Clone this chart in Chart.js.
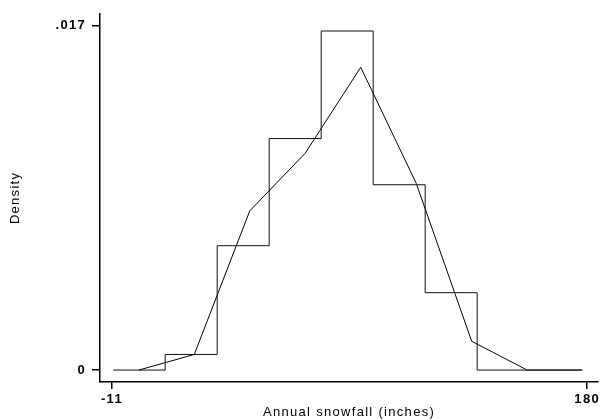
<!DOCTYPE html>
<html>
<head>
<meta charset="utf-8">
<title>Annual snowfall</title>
<script src="https://cdn.jsdelivr.net/npm/chart.js@4/dist/chart.umd.min.js"></script>
<style>
  html, body { margin: 0; padding: 0; background: #fff; }
  canvas { display: block; }
</style>
</head>
<body>
<canvas id="snow" width="601" height="420"></canvas>
<script>
// histogram bins (inches) and their densities
const binEdges = [-10.5, 10.4, 31.3, 52.2, 73.1, 94.0, 114.9, 135.8, 156.7, 177.6];
const binDensity = [0, 0.00077, 0.00614, 0.01143, 0.01674, 0.00915, 0.00382, 0, 0];

// frequency polygon over the same data
const polyX = [-0.2, 22.1, 44.4, 66.7, 89.0, 111.3, 133.6, 155.9, 178.2];
const polyY = [0, 0.00077, 0.00786, 0.01071, 0.01495, 0.00922, 0.00142, 0, 0];

const xTicks = [-11, 180];
const xTickLabels = ['-11', '180'];
const yTicks = [0, 0.017];
const yTickLabels = ['0', '.017'];

// step outline: each bin's top ends at its right edge (stepped 'after' rises first)
const histPoints = [{ x: binEdges[0], y: binDensity[0] }];
binDensity.forEach((d, i) => histPoints.push({ x: binEdges[i + 1], y: d }));
const polyPoints = polyX.map((x, i) => ({ x: x, y: polyY[i] }));

const FAMILY = '"Liberation Sans", Arial, Helvetica, sans-serif';
const TICK_FONT = { family: FAMILY, size: 13, weight: 'bold' };
const TITLE_FONT = { family: FAMILY, size: 13 };

const spacing = {
  id: 'spacing',
  beforeDraw(chart) { chart.ctx.letterSpacing = '1.3px'; }
};

new Chart(document.getElementById('snow').getContext('2d'), {
  type: 'line',
  data: {
    datasets: [
      {
        label: 'hist',
        data: histPoints,
        stepped: 'after',
        borderColor: '#111',
        borderWidth: 1,
        pointRadius: 0,
        fill: false
      },
      {
        label: 'poly',
        data: polyPoints,
        borderColor: '#000',
        borderWidth: 1,
        pointRadius: 0,
        tension: 0,
        fill: false
      }
    ]
  },
  options: {
    responsive: false,
    animation: false,
    events: [],
    layout: { padding: { top: 12, right: 0, left: 0, bottom: 0 } },
    plugins: { legend: { display: false }, tooltip: { enabled: false } },
    scales: {
      x: {
        type: 'linear',
        min: -15.8,
        max: 184.4,
        afterBuildTicks: s => { s.ticks = xTicks.map(v => ({ value: v })); },
        afterFit: s => { s.height = 38; },
        ticks: {
          color: '#000',
          font: TICK_FONT,
          padding: 3,
          maxRotation: 0,
          autoSkip: false,
          callback: v => xTickLabels[xTicks.indexOf(v)]
        },
        grid: { drawOnChartArea: false, color: '#000', lineWidth: 1.5, tickLength: 7 },
        border: { display: true, color: '#000', width: 1.5 },
        title: {
          display: true,
          text: 'Annual snowfall (inches)',
          color: '#000',
          font: TITLE_FONT,
          padding: { top: 0, bottom: 0 }
        }
      },
      y: {
        min: -0.00059,
        max: 0.01759,
        afterBuildTicks: s => { s.ticks = yTicks.map(v => ({ value: v })); },
        afterFit: s => { s.width = 100; },
        ticks: {
          color: '#000',
          font: TICK_FONT,
          padding: 6,
          autoSkip: false,
          callback: v => yTickLabels[yTicks.indexOf(v)]
        },
        grid: { drawOnChartArea: false, color: '#000', lineWidth: 1.5, tickLength: 8 },
        border: { display: true, color: '#000', width: 1.5 },
        title: {
          display: true,
          text: 'Density',
          color: '#000',
          font: TITLE_FONT,
          padding: { top: 8, bottom: 0 }
        }
      }
    }
  },
  plugins: [spacing]
});
</script>
</body>
</html>
